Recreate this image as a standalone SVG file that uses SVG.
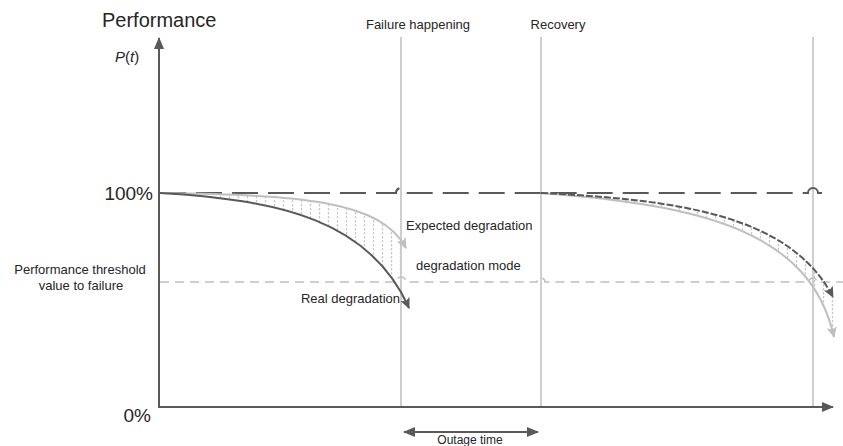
<svg xmlns="http://www.w3.org/2000/svg" width="843" height="446" viewBox="0 0 843 446">
  <style>
    text { font-family: "Liberation Sans", Arial, sans-serif; fill: #262626; }
    .axis { stroke: #595959; stroke-width: 2; fill: none; }
    .vline { stroke: #bfbfbf; stroke-width: 1.5; fill: none; }
    .full { stroke: #595959; stroke-width: 2; stroke-dasharray: 26 10; fill: none; }
    .thresh { stroke: #bfbfbf; stroke-width: 1.5; stroke-dasharray: 9 6; fill: none; }
    .dark { stroke: #595959; stroke-width: 2; fill: none; }
    .darkdash { stroke: #595959; stroke-width: 2; stroke-dasharray: 7 2; fill: none; }
    .light { stroke: #bfbfbf; stroke-width: 2; fill: none; }
    .hatch { fill: url(#hatch); stroke: none; }
    .lbl { font-size: 13px; }
  </style>
  <defs>
    <marker id="axisHead" viewBox="0 0 12 10" refX="11" refY="5" markerWidth="12" markerHeight="10" markerUnits="userSpaceOnUse" orient="auto-start-reverse">
      <path d="M0,0 L12,5 L0,10 Z" fill="#595959"/>
    </marker>
    <marker id="darkHead" viewBox="0 0 11 10" refX="10" refY="5" markerWidth="11" markerHeight="10" markerUnits="userSpaceOnUse" orient="auto">
      <path d="M0,0 L11,5 L0,10 L2.5,5 Z" fill="#595959"/>
    </marker>
    <marker id="lightHead" viewBox="0 0 11 10" refX="10" refY="5" markerWidth="11" markerHeight="10" markerUnits="userSpaceOnUse" orient="auto">
      <path d="M0,0 L11,5 L0,10 L2.5,5 Z" fill="#bfbfbf"/>
    </marker>
    <pattern id="hatch" patternUnits="userSpaceOnUse" x="0" y="0" width="9" height="4">
      <line x1="4.5" y1="0" x2="4.5" y2="2.4" stroke="#c8c8c8" stroke-width="1.3"/>
    </pattern>
  </defs>

  <!-- event markers -->
  <g id="event-lines">
    <line class="vline" x1="401" y1="37" x2="401" y2="407"/>
    <line class="vline" x1="541" y1="37" x2="541" y2="407"/>
    <line class="vline" x1="813" y1="37" x2="813" y2="407"/>
  </g>

  <!-- reference levels, with small jumps over the vertical lines -->
  <g id="levels">
    <path class="full" d="M160,193 H396 A5,5 0 0 1 406,193 H808 A5,5 0 0 1 818,193 H822"/>
    <path class="thresh" d="M160,282 H396 A5,5 0 0 1 406,282 H537 A4,4 0 0 1 545,282 H809 A4,4 0 0 1 817,282 H843"/>
  </g>

  <!-- degradation before failure -->
  <g id="degradation-before">
    <path class="hatch" d="M160,193 C300,195 380,200 406,248 L409,308 C370,220 280,200 160,193 Z"/>
    <path class="light" d="M160,193 C300,195 380,200 406,248" marker-end="url(#lightHead)"/>
    <path class="dark" d="M160,193 C280,200 370,220 409,308" marker-end="url(#darkHead)"/>
  </g>

  <!-- degradation after recovery -->
  <g id="degradation-after">
    <path class="hatch" d="M541,193 C680,200 790,215 833,297 L834,337 C810,230 700,205 541,193 Z"/>
    <path class="light" d="M541,193 C700,205 810,230 834,337" marker-end="url(#lightHead)"/>
    <path class="darkdash" d="M541,193 C680,200 790,215 833,297" marker-end="url(#darkHead)"/>
  </g>

  <!-- axes -->
  <g id="axes">
    <line class="axis" x1="159" y1="408" x2="159" y2="38" marker-end="url(#axisHead)"/>
    <line class="axis" x1="158" y1="407" x2="833" y2="407" marker-end="url(#axisHead)"/>
  </g>

  <!-- outage interval -->
  <g id="outage">
    <line class="axis" x1="404" y1="432" x2="538" y2="432" marker-start="url(#axisHead)" marker-end="url(#axisHead)"/>
    <text x="470" y="444" font-size="12" text-anchor="middle">Outage time</text>
  </g>

  <!-- labels -->
  <g id="labels">
    <text x="102" y="27" font-size="20">Performance</text>
    <text x="115" y="62" font-size="15"><tspan font-style="italic">P</tspan>(<tspan font-style="italic">t</tspan>)</text>
    <text x="153" y="200" font-size="19" text-anchor="end">100%</text>
    <text x="151" y="422" font-size="19" text-anchor="end">0%</text>
    <text class="lbl" x="80" y="274" text-anchor="middle">Performance threshold</text>
    <text class="lbl" x="81" y="290" text-anchor="middle">value to failure</text>
    <text class="lbl" x="418" y="29" text-anchor="middle">Failure happening</text>
    <text class="lbl" x="558" y="29" text-anchor="middle">Recovery</text>
    <text class="lbl" x="406" y="230">Expected degradation</text>
    <text class="lbl" x="416" y="270">degradation mode</text>
    <text class="lbl" x="400" y="303" text-anchor="end">Real degradation</text>
  </g>
</svg>
